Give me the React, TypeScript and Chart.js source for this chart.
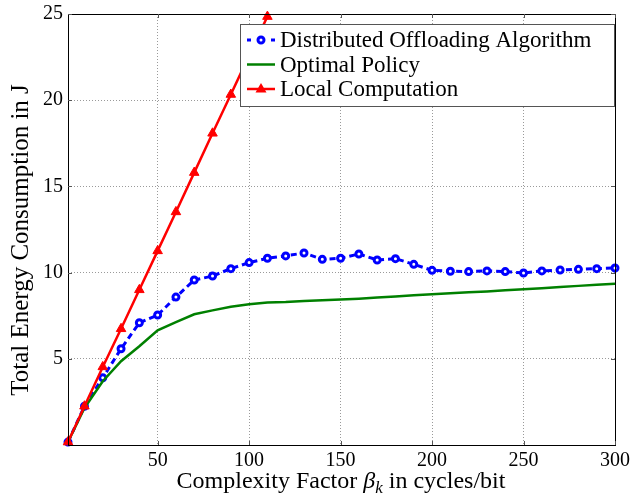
import React, { useEffect, useRef } from 'react';
import { Chart, registerables } from 'chart.js';
Chart.register(...registerables);

const xDistributed = [1, 10, 20, 30, 40, 50, 60, 70, 80, 90, 100, 110, 120, 130, 140, 150, 160, 170, 180, 190, 200, 210, 220, 230, 240, 250, 260, 270, 280, 290, 300];
const distributed = [0.17, 2.25, 3.9, 5.58, 7.09, 7.54, 8.58, 9.57, 9.8, 10.23, 10.58, 10.83, 10.97, 11.14, 10.77, 10.83, 11.08, 10.73, 10.81, 10.48, 10.13, 10.08, 10.06, 10.1, 10.06, 9.98, 10.1, 10.15, 10.19, 10.23, 10.27];
const optimal = [0.17, 2.15, 3.7, 4.86, 5.73, 6.65, 7.13, 7.58, 7.81, 8.02, 8.16, 8.26, 8.29, 8.35, 8.4, 8.44, 8.49, 8.55, 8.61, 8.68, 8.74, 8.8, 8.86, 8.91, 8.97, 9.03, 9.09, 9.16, 9.23, 9.29, 9.36];
const xLocal = [1, 10, 20, 30, 40, 50, 60, 70, 80, 90, 100, 110];
const local = [0.17, 2.25, 4.53, 6.74, 9.0, 11.26, 13.52, 15.8, 18.08, 20.33, 22.6, 24.85];
const xTicks = [50, 100, 150, 200, 250, 300];
const yTicks = [5, 10, 15, 20, 25];
const legendLabels = ['Distributed Offloading Algorithm', 'Optimal Policy', 'Local Computation'];
const yTitle = 'Total Energy Consumption in J';

const SERIF = '"Liberation Serif", "DejaVu Serif", serif';
const BLUE = '#0000ff';
const GREEN = '#008000';
const RED = '#ff0000';

const overlay = {
  id: 'overlay',
  afterDraw(chart: any) {
    const ctx = chart.ctx;
    const a = chart.chartArea;
    ctx.save();
    // frame
    ctx.strokeStyle = '#000';
    ctx.lineWidth = 1;
    ctx.strokeRect(Math.round(a.left) + 0.5, Math.round(a.top) + 0.5, Math.round(a.right - a.left), Math.round(a.bottom - a.top));
    // inner tick marks
    const xs = chart.scales.x;
    const ys = chart.scales.y;
    ctx.strokeStyle = '#555';
    xTicks.forEach((v) => {
      const p = Math.round(xs.getPixelForValue(v)) + 0.5;
      ctx.beginPath();
      ctx.moveTo(p, a.bottom); ctx.lineTo(p, a.bottom - 4);
      ctx.moveTo(p, a.top); ctx.lineTo(p, a.top + 4);
      ctx.stroke();
    });
    yTicks.forEach((v) => {
      const p = Math.round(ys.getPixelForValue(v)) + 0.5;
      ctx.beginPath();
      ctx.moveTo(a.left, p); ctx.lineTo(a.left + 4, p);
      ctx.moveTo(a.right, p); ctx.lineTo(a.right - 4, p);
      ctx.stroke();
    });

    // legend box
    const lx = 240, ly = 24, lw = 374, lh = 82;
    ctx.fillStyle = '#fff';
    ctx.fillRect(lx, ly, lw, lh);
    ctx.strokeStyle = '#555';
    ctx.lineWidth = 1;
    ctx.strokeRect(lx + 0.5, ly + 0.5, lw, lh);
    const rows = [40, 64.5, 89];
    const sx0 = 247, sx1 = 275, mx = 261;
    // blue sample
    ctx.strokeStyle = BLUE;
    ctx.lineWidth = 3;
    ctx.beginPath();
    ctx.moveTo(sx0, rows[0]); ctx.lineTo(sx0 + 4, rows[0]);
    ctx.moveTo(sx1 - 4, rows[0]); ctx.lineTo(sx1, rows[0]);
    ctx.stroke();
    ctx.beginPath();
    ctx.arc(mx, rows[0], 3, 0, Math.PI * 2);
    ctx.fillStyle = '#fff';
    ctx.fill();
    ctx.lineWidth = 3;
    ctx.stroke();
    // green sample
    ctx.strokeStyle = GREEN;
    ctx.lineWidth = 2.5;
    ctx.beginPath();
    ctx.moveTo(sx0, rows[1]); ctx.lineTo(sx1, rows[1]);
    ctx.stroke();
    // red sample
    ctx.strokeStyle = RED;
    ctx.lineWidth = 2.5;
    ctx.beginPath();
    ctx.moveTo(sx0, rows[2]); ctx.lineTo(sx1, rows[2]);
    ctx.stroke();
    ctx.fillStyle = RED;
    ctx.beginPath();
    ctx.moveTo(mx, rows[2] - 6);
    ctx.lineTo(mx + 5.5, rows[2] + 3.5);
    ctx.lineTo(mx - 5.5, rows[2] + 3.5);
    ctx.closePath();
    ctx.fill();
    // legend text
    ctx.fillStyle = '#000';
    ctx.font = `23px ${SERIF}`;
    ctx.textBaseline = 'middle';
    ctx.textAlign = 'left';
    legendLabels.forEach((t, i) => ctx.fillText(t, 280, rows[i] + 1));

    // y title
    ctx.save();
    ctx.translate(21, 240);
    ctx.rotate(-Math.PI / 2);
    ctx.textAlign = 'center';
    ctx.textBaseline = 'middle';
    ctx.font = `25px ${SERIF}`;
    ctx.fillText(yTitle, 0, 0);
    ctx.restore();

    // x title with beta_k
    const parts = [
      { t: 'Complexity Factor ', f: `24px ${SERIF}`, dy: 0 },
      { t: '\u03b2', f: `italic 24px ${SERIF}`, dy: 0 },
      { t: 'k', f: `italic 17px ${SERIF}`, dy: 5 },
      { t: ' in cycles/bit', f: `24px ${SERIF}`, dy: 0 },
    ];
    let total = 0;
    parts.forEach((p) => { ctx.font = p.f; total += ctx.measureText(p.t).width; });
    let x = 341 - total / 2;
    const by = 488;
    ctx.fillStyle = '#000';
    ctx.textBaseline = 'alphabetic';
    ctx.textAlign = 'left';
    parts.forEach((p) => {
      ctx.font = p.f;
      ctx.fillText(p.t, x, by + p.dy);
      x += ctx.measureText(p.t).width;
    });
    ctx.restore();
  },
};

export default function App() {
  const ref = useRef<HTMLCanvasElement>(null);
  useEffect(() => {
    const toPts = (xs: number[], ys: number[]) => xs.map((x, i) => ({ x, y: ys[i] }));
    const chart = new Chart(ref.current!, {
      type: 'line',
      data: {
        datasets: [
          {
            label: legendLabels[0],
            data: toPts(xDistributed, distributed),
            borderColor: BLUE,
            backgroundColor: '#fff',
            borderWidth: 3,
            borderDash: [6, 4],
            pointStyle: 'circle',
            pointRadius: 3,
            pointBorderWidth: 3,
            pointBorderColor: BLUE,
            pointBackgroundColor: '#fff',
            order: 3,
            clip: false,
          } as any,
          {
            label: legendLabels[1],
            data: toPts(xDistributed, optimal),
            borderColor: GREEN,
            borderWidth: 2.5,
            pointRadius: 0,
            order: 2,
          },
          {
            label: legendLabels[2],
            data: toPts(xLocal, local),
            borderColor: RED,
            backgroundColor: RED,
            borderWidth: 2.5,
            pointStyle: 'triangle',
            pointRadius: 5.5,
            pointBackgroundColor: RED,
            pointBorderColor: RED,
            pointBorderWidth: 1,
            order: 1,
            clip: false,
          } as any,
        ],
      },
      options: {
        animation: false,
        responsive: false,
        layout: { padding: { top: 14, right: 15, left: 0, bottom: 0 } },
        plugins: { legend: { display: false }, tooltip: { enabled: false } },
        elements: { line: { tension: 0 } },
        scales: {
          x: {
            type: 'linear',
            min: 1,
            max: 300,
            afterBuildTicks: (s: any) => { s.ticks = xTicks.map((v) => ({ value: v })); },
            afterFit: (s: any) => { s.height = 54; s.paddingLeft = 0; s.paddingRight = 0; },
            grid: { color: '#9a9a9a', drawTicks: false, lineWidth: 1 },
            border: { display: false, dash: [1, 2] },
            ticks: { color: '#000', font: { family: SERIF, size: 20 }, padding: 4, maxRotation: 0 },
          },
          y: {
            type: 'linear',
            min: 0,
            max: 25,
            afterBuildTicks: (s: any) => { s.ticks = yTicks.map((v) => ({ value: v })); },
            afterFit: (s: any) => { s.width = 68; s.paddingTop = 0; s.paddingBottom = 0; },
            grid: { color: '#9a9a9a', drawTicks: false, lineWidth: 1 },
            border: { display: false, dash: [1, 2] },
            ticks: { color: '#000', font: { family: SERIF, size: 20 }, padding: 5 },
          },
        },
      },
      plugins: [overlay],
    });
    return () => chart.destroy();
  }, []);
  return (
    <div style={{ position: 'fixed', left: 0, top: 0, width: 630, height: 499, background: '#fff' }}>
      <canvas ref={ref} width={630} height={499} style={{ width: 630, height: 499 }} />
    </div>
  );
}
